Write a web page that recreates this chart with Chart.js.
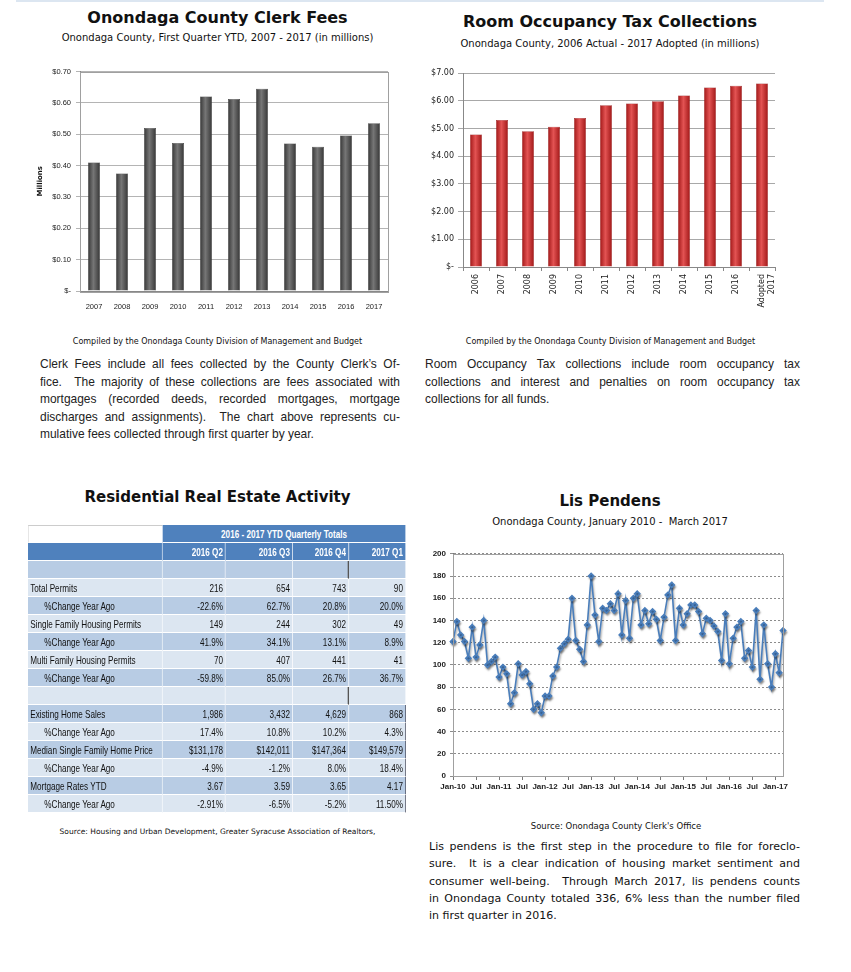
<!DOCTYPE html>
<html>
<head>
<meta charset="utf-8">
<script src="https://cdn.jsdelivr.net/npm/chart.js@4.4.0/dist/chart.umd.min.js"></script>
<style>
body{margin:0;background:#fff;width:851px;height:972px;position:relative;overflow:hidden;font-family:"DejaVu Sans",sans-serif;color:#111}
.abs{position:absolute}
.title{font-weight:bold;font-size:16px;line-height:18px;text-align:center;white-space:nowrap}
.sub{font-size:10px;line-height:12px;text-align:center;white-space:nowrap}
.note{font-size:8px;line-height:10px;text-align:center;white-space:nowrap}
.para{font-family:"Liberation Sans",Arial,sans-serif;font-size:13px;line-height:17.6px;color:#222;transform:scaleX(0.92);transform-origin:0 0}
.para div,.para2 div{text-align:justify;text-align-last:justify;white-space:nowrap}
.para div.last,.para2 div.last{text-align-last:left}
.para2{font-family:"DejaVu Sans",sans-serif;font-size:11px;line-height:17.3px;color:#111}
canvas{position:absolute}
#tbl{position:absolute;left:28px;top:525px;border-collapse:separate;border-spacing:0;table-layout:fixed;font-family:"Liberation Sans",Arial,sans-serif;font-size:11px;color:#111;transform:scaleX(0.74);transform-origin:0 0}
#tbl td{height:17px;line-height:16px;padding:0 3px;border-right:1.5px solid #fff;border-bottom:1.5px solid #fff;white-space:nowrap;overflow:hidden}
#tbl td.n{text-align:right}
#tbl tr.h td{background:#4f81bd;color:#fff;font-weight:bold}
#tbl tr.dark td{background:#b8cce4}
#tbl tr.light td{background:#dce6f1}
#tbl td.ind{padding-left:22px}
</style>
</head>
<body>
<div class="abs" style="left:16px;top:0;width:808px;height:2px;background:#dce6f1"></div>

<div class="abs title" style="left:20px;top:9px;width:395px">Onondaga County Clerk Fees</div>
<div class="abs sub" style="left:20px;top:32px;width:395px">Onondaga County, First Quarter YTD, 2007 - 2017 (in millions)</div>
<div class="abs title" style="left:410px;top:13px;width:400px">Room Occupancy Tax Collections</div>
<div class="abs sub" style="left:410px;top:38px;width:400px">Onondaga County, 2006 Actual - 2017 Adopted (in millions)</div>

<canvas id="fees" width="375" height="253" style="left:20px;top:62px"></canvas>
<canvas id="tax" width="380" height="248" style="left:410px;top:62px"></canvas>

<div class="abs note" style="left:20px;top:337px;width:395px">Compiled by the Onondaga County Division of Management and Budget</div>
<div class="abs note" style="left:413px;top:337px;width:395px">Compiled by the Onondaga County Division of Management and Budget</div>

<div class="abs para" style="left:40px;top:355px;width:391.3px">
<div>Clerk Fees include all fees collected by the County Clerk’s Of-</div>
<div>fice.&nbsp; The majority of these collections are fees associated with</div>
<div>mortgages (recorded deeds, recorded mortgages, mortgage</div>
<div>discharges and assignments).&nbsp; The chart above represents cu-</div>
<div class="last">mulative fees collected through first quarter by year.</div>
</div>
<div class="abs para" style="left:425px;top:355px;width:407.6px">
<div>Room Occupancy Tax collections include room occupancy tax</div>
<div>collections and interest and penalties on room occupancy tax</div>
<div class="last">collections for all funds.</div>
</div>

<div class="abs title" style="left:20px;top:488px;width:395px;font-size:15px">Residential Real Estate Activity</div>
<table id="tbl"></table>
<div class="abs note" style="left:20px;top:827px;width:395px;font-size:7.5px">Source: Housing and Urban Development, Greater Syracuse Association of Realtors,</div>

<div class="abs title" style="left:410px;top:492px;width:400px;font-size:15px">Lis Pendens</div>
<div class="abs" style="left:410px;top:516px;width:400px;text-align:center;font-size:10px;white-space:nowrap">Onondaga County, January 2010 -&nbsp; March 2017</div>
<canvas id="lis" width="385" height="255" style="left:415px;top:545px"></canvas>
<div class="abs" style="left:416px;top:821px;width:400px;text-align:center;font-size:8.5px;white-space:nowrap">Source: Onondaga County Clerk's Office</div>
<div class="abs para2" style="left:429px;top:838px;width:371px">
<div>Lis pendens is the first step in the procedure to file for foreclo-</div>
<div>sure.&nbsp; It is a clear indication of housing market sentiment and</div>
<div>consumer well-being.&nbsp; Through March 2017, lis pendens counts</div>
<div>in Onondaga County totaled 336, 6% less than the number filed</div>
<div class="last">in first quarter in 2016.</div>
</div>

<script>
// clerk fees, first quarter YTD (millions)
const feeYears = ['2007','2008','2009','2010','2011','2012','2013','2014','2015','2016','2017'];
const feeValues = [0.41, 0.375, 0.52, 0.472, 0.62, 0.612, 0.645, 0.47, 0.46, 0.496, 0.535];

// room occupancy tax (millions)
const taxYears = ['2006','2007','2008','2009','2010','2011','2012','2013','2014','2015','2016',['Adopted','2017']];
const taxValues = [4.78, 5.30, 4.90, 5.06, 5.38, 5.84, 5.90, 5.98, 6.19, 6.48, 6.54, 6.62];

// lis pendens monthly counts
const lpMonths = ['Jan','Feb','Mar','Apr','May','Jun','Jul','Aug','Sep','Oct','Nov','Dec'];
const lpYears = ['10','11','12','13','14','15','16','17'];
const lp2010 = [121,139,127,121,106,134,107,118,140,100,103,107];
const lp2011 = [89,98,92,65,75,101,91,94,83,60,65,57];
const lp2012 = [72,72,90,98,115,119,123,160,122,114,103,136];
const lp2013 = [180,145,121,151,149,155,149,164,127,158,124,160];
const lp2014 = [164,136,149,137,148,141,122,143,163,172,122,151];
const lp2015 = [136,146,154,154,148,128,142,140,135,130,104,146];
const lp2016 = [101,124,134,139,106,113,98,149,87,136,101,80];
const lp2017 = [110,93,131];

// real estate table
const tblTitle = '2016 - 2017 YTD Quarterly Totals';
const tblCols = ['2016 Q2','2016 Q3','2016 Q4','2017 Q1'];
const tblRows = [
  ['', '', '', '', ''],
  ['Total Permits', '216', '654', '743', '90'],
  ['%Change Year Ago', '-22.6%', '62.7%', '20.8%', '20.0%'],
  ['Single Family Housing Permits', '149', '244', '302', '49'],
  ['%Change Year Ago', '41.9%', '34.1%', '13.1%', '8.9%'],
  ['Multi Family Housing Permits', '70', '407', '441', '41'],
  ['%Change Year Ago', '-59.8%', '85.0%', '26.7%', '36.7%'],
  ['', '', '', '', ''],
  ['Existing Home Sales', '1,986', '3,432', '4,629', '868'],
  ['%Change Year Ago', '17.4%', '10.8%', '10.2%', '4.3%'],
  ['Median Single Family Home Price', '$131,178', '$142,011', '$147,364', '$149,579'],
  ['%Change Year Ago', '-4.9%', '-1.2%', '8.0%', '18.4%'],
  ['Mortgage Rates YTD', '3.67', '3.59', '3.65', '4.17'],
  ['%Change Year Ago', '-2.91%', '-6.5%', '-5.2%', '11.50%']
];

const narrow = '"Liberation Sans",Arial,sans-serif';
Chart.defaults.animation = false;
Chart.defaults.font.family = '"DejaVu Sans",sans-serif';
Chart.defaults.plugins.legend.display = false;
Chart.defaults.plugins.tooltip.enabled = false;

function barFill(dark, light, pct) {
  return function (c) {
    const chart = c.chart, x = chart.scales.x;
    if (c.type !== 'data' || !chart.chartArea || !x) return dark;
    const cx = x.getPixelForValue(c.dataIndex);
    const w = (x.width / chart.data.labels.length) * pct;
    const g = chart.ctx.createLinearGradient(cx - w / 2, 0, cx + w / 2, 0);
    g.addColorStop(0, dark);
    g.addColorStop(0.45, light);
    g.addColorStop(1, dark);
    return g;
  };
}

const plotBox = {
  id: 'plotBox',
  afterDraw(chart, args, opts) {
    const a = chart.chartArea, ctx = chart.ctx;
    ctx.save();
    ctx.strokeStyle = opts.color || '#999';
    ctx.lineWidth = 1;
    ctx.strokeRect(Math.round(a.left) + 0.5, Math.round(a.top) + 0.5, Math.round(a.right - a.left), Math.round(a.bottom - a.top));
    ctx.restore();
  }
};

const shadow = {
  id: 'shadow',
  beforeDatasetsDraw(chart) {
    const ctx = chart.ctx;
    ctx.save();
    ctx.shadowColor = 'rgba(0,0,0,0.35)';
    ctx.shadowBlur = 2;
    ctx.shadowOffsetX = 1;
    ctx.shadowOffsetY = 2;
  },
  afterDatasetsDraw(chart) { chart.ctx.restore(); }
};

const money = v => v === 0 ? '$-' : '$' + v.toFixed(2);

new Chart(document.getElementById('fees'), {
  type: 'bar',
  data: {
    labels: feeYears,
    datasets: [{
      data: feeValues,
      backgroundColor: barFill('#363636', '#767676', 0.43),
      borderColor: '#2e2e2e',
      borderWidth: 0.5,
      barPercentage: 0.43,
      categoryPercentage: 1
    }]
  },
  options: {
    responsive: false,
    layout: { padding: { top: 8, right: 7 } },
    plugins: { plotBox: { color: '#a0a0a0' } },
    scales: {
      x: {
        grid: { display: false },
        border: { color: '#888' },
        ticks: { font: { family: narrow, size: 7.5 }, color: '#222', padding: 3, maxRotation: 0, autoSkip: false },
        afterFit(s) { s.height = 24; }
      },
      y: {
        min: 0, max: 0.7,
        ticks: { stepSize: 0.1, callback: money, font: { family: narrow, size: 7.5 }, color: '#222', padding: 5 },
        grid: { color: '#b4b4b4', tickLength: 4 },
        border: { color: '#888' },
        title: { display: true, text: 'Millions', font: { size: 7, weight: 'bold' }, color: '#111', padding: { top: 16, bottom: 0 } },
        afterFit(s) { s.width = 60; }
      }
    }
  },
  plugins: [plotBox]
});

new Chart(document.getElementById('tax'), {
  type: 'bar',
  data: {
    labels: taxYears,
    datasets: [{
      data: taxValues,
      backgroundColor: barFill('#a11717', '#e35353', 0.46),
      borderColor: '#8e1212',
      borderWidth: 0.5,
      barPercentage: 0.46,
      categoryPercentage: 1
    }]
  },
  options: {
    responsive: false,
    layout: { padding: { top: 11, right: 15 } },
    scales: {
      x: {
        grid: { drawOnChartArea: false, offset: true, tickLength: 4, color: '#888' },
        border: { color: '#888' },
        ticks: { font: { size: 8 }, color: '#222', padding: 3, minRotation: 90, maxRotation: 90, autoSkip: false },
        afterFit(s) { s.height = 43; }
      },
      y: {
        min: 0, max: 7,
        ticks: { stepSize: 1, callback: money, font: { size: 8 }, color: '#222', padding: 4 },
        grid: { color: '#a8a8a8', tickLength: 5 },
        border: { color: '#888' },
        afterFit(s) { s.width = 53; }
      }
    }
  }
});

const lpLabels = [];
lpYears.forEach(y => lpMonths.forEach(m => lpLabels.push(m + '-' + y)));
const lpValues = [].concat(lp2010, lp2011, lp2012, lp2013, lp2014, lp2015, lp2016, lp2017);
lpLabels.length = lpValues.length;

new Chart(document.getElementById('lis'), {
  type: 'line',
  data: {
    labels: lpLabels,
    datasets: [{
      data: lpValues,
      borderColor: '#4a7ebb',
      backgroundColor: '#4a7ebb',
      borderWidth: 1.6,
      pointStyle: 'rectRot',
      pointRadius: 2.6,
      tension: 0
    }]
  },
  options: {
    responsive: false,
    layout: { padding: { top: 8, right: 17 } },
    plugins: { plotBox: { color: '#a0a0a0' } },
    scales: {
      x: {
        grid: {
          drawOnChartArea: false, tickLength: 4,
          color: c => (c.index % 6 === 0 ? '#777' : 'rgba(0,0,0,0)')
        },
        border: { color: '#777' },
        ticks: {
          autoSkip: false, maxRotation: 0, padding: 2,
          font: { family: narrow, size: 8, weight: 'bold' }, color: '#222',
          callback(v, i) {
            const l = lpLabels[i];
            if (l.startsWith('Jan')) return l;
            if (l.startsWith('Jul')) return 'Jul';
            return '';
          }
        },
        afterFit(s) { s.height = 24; }
      },
      y: {
        min: 0, max: 200,
        ticks: { stepSize: 20, font: { family: narrow, size: 8, weight: 'bold' }, color: '#222', padding: 4 },
        grid: { color: '#8c8c8c', tickLength: 3 },
        // in v4 border.dash dashes the grid lines
        border: { color: '#777', dash: [2, 2] },
        afterFit(s) { s.width = 38; }
      }
    }
  },
  plugins: [plotBox, shadow]
});

// table, drawn wide and squeezed to look like a narrow font
const tbl = document.getElementById('tbl');
const widths = [135, 63, 67, 56, 57].map(w => w / 0.74);
let html = '<colgroup>' + widths.map(w => '<col style="width:' + w.toFixed(1) + 'px">').join('') + '</colgroup>';
html += '<tr class="h"><td style="background:#fff;border-top:1px solid #ccc;border-left:1px solid #ddd;height:16px"></td><td colspan="4" style="text-align:center">' + tblTitle + '</td></tr>';
html += '<tr class="h"><td></td>' + tblCols.map(c => '<td class="n">' + c + '</td>').join('') + '</tr>';
tblRows.forEach((r, i) => {
  const cls = i % 2 === 0 ? 'dark' : 'light';
  const blank = r[0] === '';
  const ind = r[0].startsWith('%');
  html += '<tr class="' + cls + '">';
  html += '<td' + (ind ? ' class="ind"' : '') + '>' + r[0] + '</td>';
  for (let k = 1; k < 5; k++) {
    let st = '';
    if (blank && k === 3) st = ' style="border-right:2px solid #555"';
    if (i >= 8 && k === 4) st = ' style="border-right:1.5px solid #334"';
    html += '<td class="n"' + st + '>' + r[k] + '</td>';
  }
  html += '</tr>';
});
tbl.innerHTML = html;
</script>
</body>
</html>
